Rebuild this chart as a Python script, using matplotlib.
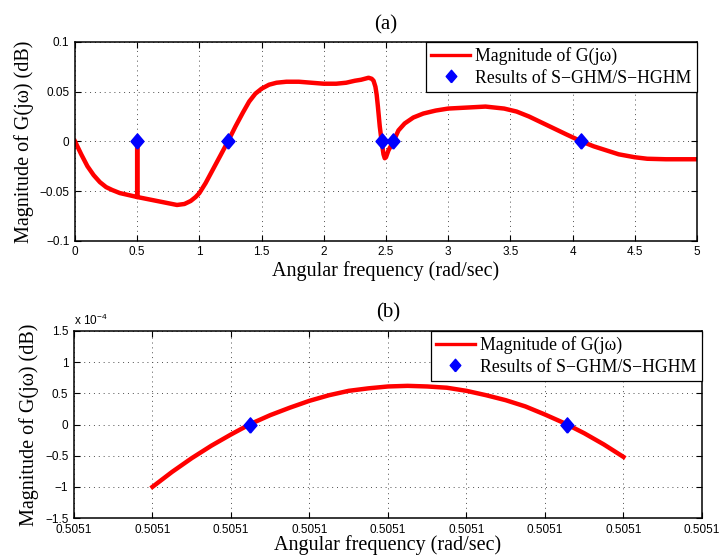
"""
:synopsis: Magnitude of G(jw) over frequency with the S-GHM/S-HGHM results.
"""

# third party imports
from matplotlib import pyplot
from matplotlib import ticker
import numpy

# Panel (a): magnitude over the full frequency range
omega_a = [0.0, 0.05, 0.10, 0.15, 0.20, 0.25, 0.30, 0.36, 0.43, 0.4999,
           0.50, 0.5001, 0.58, 0.66, 0.74, 0.82, 0.88, 0.93, 0.97, 1.00,
           1.05, 1.11, 1.17, 1.23, 1.29, 1.35, 1.40, 1.45, 1.50, 1.56,
           1.62, 1.70, 1.80, 1.90, 2.00, 2.10, 2.18, 2.25, 2.30, 2.33,
           2.36, 2.385, 2.40, 2.415, 2.425, 2.435, 2.45, 2.465, 2.48, 2.49,
           2.50, 2.52, 2.56, 2.60, 2.65, 2.72, 2.80, 2.90, 3.00, 3.15,
           3.30, 3.45, 3.55, 3.65, 3.75, 3.85, 3.95, 4.07, 4.17, 4.27,
           4.37, 4.50, 4.60, 4.75, 5.00]
mag_a = [0.0, -0.013, -0.025, -0.034, -0.041, -0.046, -0.049, -0.052,
         -0.054, -0.056, 0.0, -0.056, -0.058, -0.060, -0.062, -0.064,
         -0.063, -0.060, -0.056, -0.052, -0.042, -0.028, -0.014, 0.0,
         0.015, 0.029, 0.040, 0.048, 0.053, 0.057, 0.059, 0.060, 0.060,
         0.059, 0.058, 0.058, 0.059, 0.061, 0.062, 0.063, 0.064, 0.063,
         0.061, 0.055, 0.047, 0.035, 0.015, 0.0, -0.013, -0.017, -0.016,
         -0.009, 0.0, 0.011, 0.018, 0.024, 0.028, 0.031, 0.033, 0.034,
         0.035, 0.033, 0.030, 0.025, 0.019, 0.013, 0.007, 0.0, -0.005,
         -0.009, -0.013, -0.016, -0.0175, -0.018, -0.018]
found_a = [0.50, 1.23, 2.465, 2.56, 4.07]
found_mag_a = [0.0, 0.0, 0.0, 0.0, 0.0]

# Panel (b): zoom around the first result, magnitude in units of 1e-4 dB
omega_b = [0.5051000100, 0.5051000125, 0.5051000150, 0.5051000175,
           0.5051000200, 0.5051000225, 0.5051000250, 0.5051000275,
           0.5051000300, 0.5051000325, 0.5051000350, 0.5051000375,
           0.5051000400, 0.5051000425, 0.5051000450, 0.5051000475,
           0.5051000500, 0.5051000525, 0.5051000550, 0.5051000575,
           0.5051000600, 0.5051000625, 0.5051000650, 0.5051000675,
           0.5051000700]
mag_b = [-1.00, -0.76, -0.54, -0.34, -0.16, 0.01, 0.15, 0.27, 0.38,
         0.47, 0.54, 0.58, 0.61, 0.62, 0.61, 0.59, 0.54, 0.47, 0.39,
         0.29, 0.16, 0.02, -0.14, -0.32, -0.52]
found_b = [0.5051000224, 0.5051000628]
found_mag_b = [0.0, 0.0]

OMEGA_B_TICKS = [0.5051 + 1e-8 * k for k in range(9)]

SERIF = ['Liberation Serif', 'DejaVu Serif']
SANS = ['Liberation Sans', 'DejaVu Sans']

# slightly taller than wide, like the classic diamond marker
DIAMOND = [(0, -1), (0.85, 0), (0, 1), (-0.85, 0), (0, -1)]

pyplot.rcParams['font.family'] = SANS
pyplot.rcParams['mathtext.fontset'] = 'custom'
pyplot.rcParams['mathtext.rm'] = 'Liberation Sans'
pyplot.rcParams['mathtext.default'] = 'rm'


def style_axes(ax, xlabelpad=2):
    """Box, inward ticks and dotted grid as in the classic figures."""
    ax.tick_params(direction='in', top=True, right=True, length=4.3,
                   width=0.8, labelsize=8.5, pad=4)
    for spine in ax.spines.values():
        spine.set_linewidth(1.1)
    ax.grid(True, color='0.3', linestyle=(0, (1, 4)), linewidth=0.7)
    ax.set_axisbelow(True)
    ax.set_xlabel('Angular frequency (rad/sec)', family=SERIF, fontsize=14.5,
                  labelpad=xlabelpad)
    ax.set_ylabel('Magnitude of G(j\u03c9) (dB)', family=SERIF,
                  fontsize=14.5, labelpad=4)


def add_legend(ax):
    leg = ax.legend(loc='upper right', borderaxespad=0, fancybox=False,
                    framealpha=1, edgecolor='black', numpoints=1,
                    prop={'family': SERIF, 'size': 12.8}, handlelength=2.2,
                    handletextpad=0.3, labelspacing=0.25, borderpad=0.3)
    leg.get_frame().set_linewidth(0.9)
    line_handle, marker_handle = leg.legend_handles
    line_handle.set_linewidth(2.4)
    marker_handle.set_markersize(9)


fig = pyplot.figure(figsize=(7.21, 5.56), dpi=100)
ax_a = fig.add_axes([0.104, 0.567, 0.8627, 0.3575])
ax_b = fig.add_axes([0.1026, 0.0683, 0.871, 0.3364])

# (a) full range
ax_a.plot(omega_a, mag_a, color='red', linewidth=3.2,
          label='Magnitude of G(j\u03c9)', solid_joinstyle='round')
ax_a.plot(found_a, found_mag_a, linestyle='none', marker=DIAMOND,
          markersize=11, color='blue', label='Results of S\u2212GHM/S\u2212HGHM')
ax_a.set_xlim(0, 5)
ax_a.set_ylim(-0.1, 0.1)
ax_a.set_xticks(numpy.arange(0, 5.01, 0.5))
ax_a.set_yticks([-0.1, -0.05, 0, 0.05, 0.1])
ax_a.xaxis.set_major_formatter(ticker.FuncFormatter(lambda v, p: '%g' % v))
ax_a.yaxis.set_major_formatter(
    ticker.FuncFormatter(lambda v, p: ('%g' % v).replace('-', '\u2212')))
style_axes(ax_a)
ax_a.set_title('(a)', family=SERIF, fontsize=15, pad=9)
add_legend(ax_a)

# (b) zoom on the first result
ax_b.plot(omega_b, [m * 1e-4 for m in mag_b], color='red', linewidth=3.2,
          label='Magnitude of G(j\u03c9)', solid_joinstyle='round')
ax_b.plot(found_b, found_mag_b, linestyle='none', marker=DIAMOND,
          markersize=11, color='blue', label='Results of S\u2212GHM/S\u2212HGHM')
ax_b.set_xlim(OMEGA_B_TICKS[0], OMEGA_B_TICKS[-1])
ax_b.set_ylim(-1.5e-4, 1.5e-4)
ax_b.set_xticks(OMEGA_B_TICKS)
ax_b.set_yticks(numpy.arange(-1.5, 1.51, 0.5) * 1e-4)
ax_b.xaxis.set_major_formatter(ticker.FormatStrFormatter('%.4f'))
ax_b.yaxis.set_major_formatter(
    ticker.FuncFormatter(
        lambda v, p: ('%g' % round(v * 1e4, 2)).replace('-', '\u2212')))
style_axes(ax_b, xlabelpad=0)
ax_b.text(0.0, 1.015, r'x 10$^{\mathrm{-4}}$', transform=ax_b.transAxes,
          ha='left', va='bottom', fontsize=8.5)
ax_b.set_title('(b)', family=SERIF, fontsize=15, pad=10)
add_legend(ax_b)

fig.savefig('out.png', dpi=100)
